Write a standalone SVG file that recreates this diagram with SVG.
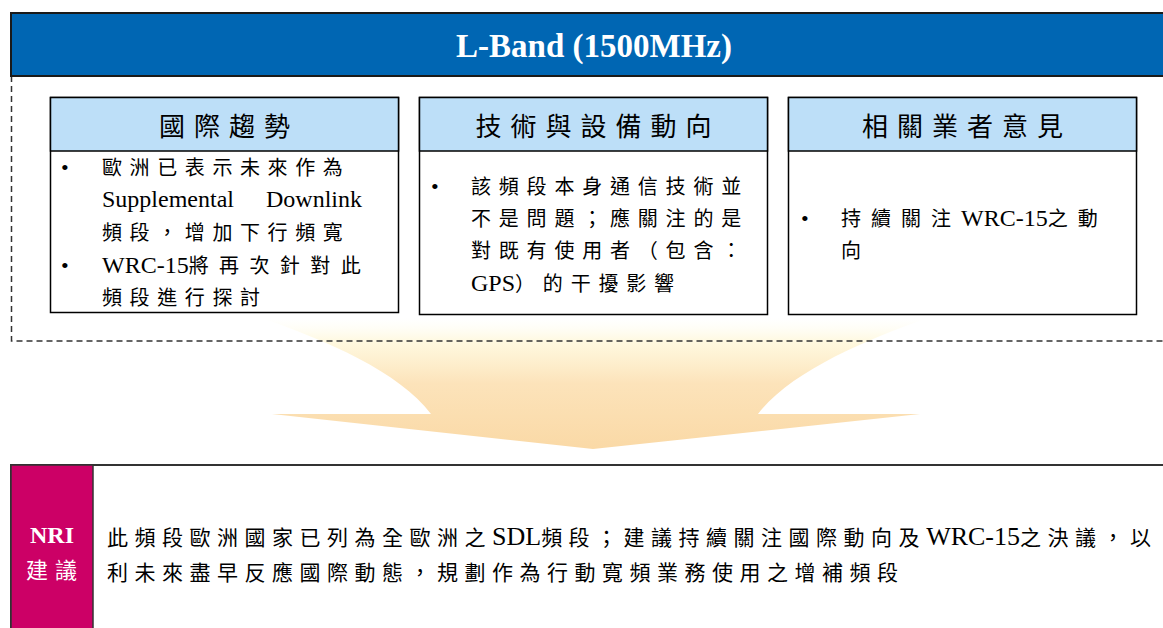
<svg xmlns="http://www.w3.org/2000/svg" width="1163" height="628" viewBox="0 0 1163 628">
<style>
.lat{font-family:'Liberation Serif','Times New Roman',serif;font-size:24px;fill:#000}
.lat2{font-family:'Liberation Serif','Times New Roman',serif;font-size:26px;fill:#000}
.cjk{font-family:'Noto Sans CJK TC','Noto Sans CJK SC',sans-serif;font-size:20px;fill:#000}
.hdr{font-family:'Noto Sans CJK TC','Noto Sans CJK SC',sans-serif;font-size:26px;letter-spacing:9px;fill:#000;text-anchor:middle}
.bul{font-family:'Liberation Serif',serif;font-size:22px;fill:#000}
.box{fill:#fff;stroke:#000;stroke-width:1.5}
.head{fill:#BDDFF8;stroke:#000;stroke-width:1.5}
.big{font-family:'Noto Sans CJK TC','Noto Sans CJK SC',sans-serif;font-size:21px;letter-spacing:6.5px;fill:#000}
</style>
<defs>
<linearGradient id="ag" x1="0" y1="318" x2="0" y2="449" gradientUnits="userSpaceOnUse">
<stop offset="0" stop-color="#FFFDF0" stop-opacity="0"/>
<stop offset="0.18" stop-color="#FFF8DC" stop-opacity="0.9"/>
<stop offset="0.5" stop-color="#FCE3BA"/>
<stop offset="1" stop-color="#FAD9A6"/>
</linearGradient>
</defs>

<g id="connectors">
<path d="M 262 318 C 325 340 400 372 431 414 L 272 414 L 593 449 L 920 414 L 758 414 C 790 372 865 340 928 318 Z" fill="url(#ag)"/>
</g>

<g id="frame">
<path d="M 11.5 76 L 11.5 341 L 1163 341" fill="none" stroke="#333" stroke-width="1.5" stroke-dasharray="6,4"/>
</g>

<g id="title">
<rect x="11" y="13" width="1165" height="63" fill="#0066B3" stroke="#1a1a1a" stroke-width="2"/>
<text x="594" y="57" text-anchor="middle" font-family="'Liberation Serif','Times New Roman',serif" font-size="33" font-weight="bold" fill="#fff">L-Band (1500MHz)</text>
</g>

<g id="node-trend">
<rect class="box" x="50.5" y="97.5" width="348" height="215"/>
<rect class="head" x="50.5" y="97.5" width="348" height="53.5"/>
<text class="hdr" x="229" y="136">國際趨勢</text>
<text class="bul" x="61" y="175">•</text>
<text class="cjk" x="102" y="175" letter-spacing="7.6">歐洲已表示未來作為</text>
<text class="lat" x="102" y="207" word-spacing="26">Supplemental Downlink</text>
<text class="cjk" x="102" y="240" letter-spacing="7.6">頻段，增加下行頻寬</text>
<text class="bul" x="61" y="273">•</text>
<text x="102" y="273"><tspan class="lat">WRC-15</tspan><tspan class="cjk" letter-spacing="10.4">將再次針對此</tspan></text>
<text class="cjk" x="102" y="305" letter-spacing="7.6">頻段進行探討</text>
</g>

<g id="node-tech">
<rect class="box" x="419.5" y="97.5" width="348" height="217"/>
<rect class="head" x="419.5" y="97.5" width="348" height="53.5"/>
<text class="hdr" x="598" y="136">技術與設備動向</text>
<text class="bul" x="431" y="194">•</text>
<text class="cjk" x="471" y="194" letter-spacing="7.8">該頻段本身通信技術並</text>
<text class="cjk" x="471" y="226" letter-spacing="7.8">不是問題；應關注的是</text>
<text class="cjk" x="471" y="258" letter-spacing="7.8">對既有使用者（包含：</text>
<text x="471" y="291"><tspan class="lat">GPS</tspan><tspan class="cjk" letter-spacing="7.8">）的干擾影響</tspan></text>
</g>

<g id="node-opinion">
<rect class="box" x="788.5" y="97.5" width="348" height="217"/>
<rect class="head" x="788.5" y="97.5" width="348" height="53.5"/>
<text class="hdr" x="967" y="136">相關業者意見</text>
<text class="bul" x="801" y="226">•</text>
<text x="841" y="226"><tspan class="cjk" letter-spacing="10">持續關注</tspan><tspan class="lat">WRC-15</tspan><tspan class="cjk" letter-spacing="10">之動</tspan></text>
<text class="cjk" x="841" y="258">向</text>
</g>

<g id="node-nri">
<rect x="11" y="465" width="1165" height="200" fill="#fff" stroke="#333" stroke-width="2"/>
<rect x="11" y="465" width="82" height="200" fill="#CC0066" stroke="#333" stroke-width="1.5"/>
<text x="52" y="543" text-anchor="middle" font-family="'Liberation Serif','Times New Roman',serif" font-size="24" font-weight="bold" fill="#fff">NRI</text>
<text x="26" y="578" font-family="'Noto Sans CJK TC','Noto Sans CJK SC',sans-serif" font-size="22" letter-spacing="7" fill="#fff">建議</text>
<text x="107" y="545"><tspan class="big">此頻段歐洲國家已列為全歐洲之</tspan><tspan class="lat2">SDL</tspan><tspan class="big">頻段；建議持續關注國際動向及</tspan><tspan class="lat2">WRC-15</tspan><tspan class="big">之決議，以</tspan></text>
<text x="107" y="580" class="big" letter-spacing="6.2">利未來盡早反應國際動態，規劃作為行動寬頻業務使用之增補頻段</text>
</g>
</svg>
